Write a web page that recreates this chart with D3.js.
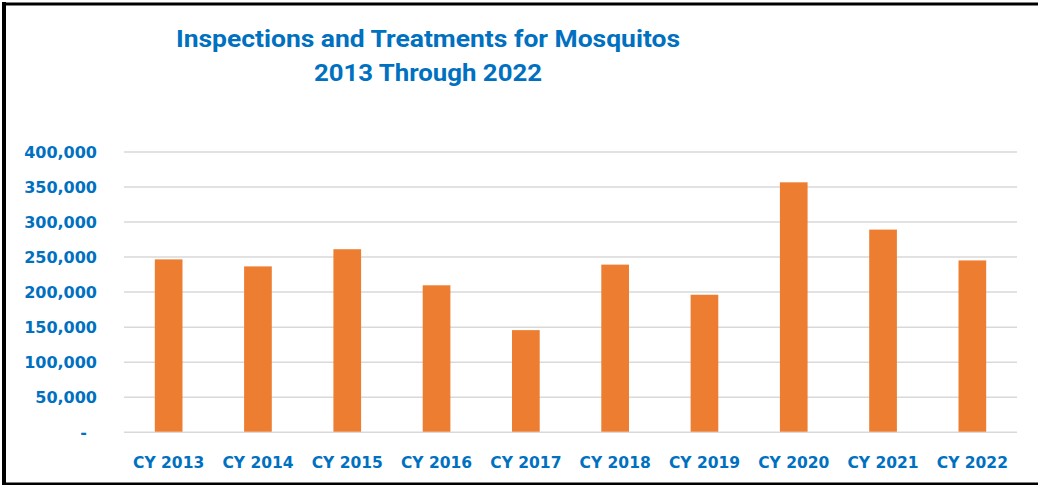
<!DOCTYPE html>
<html>
<head>
<meta charset="utf-8">
<script src="https://cdn.jsdelivr.net/npm/d3@7"></script>
<style>
  html, body { margin: 0; padding: 0; background: #fff; }
  svg { display: block; }
</style>
</head>
<body>
<svg id="chart" width="1038" height="485"></svg>
<script>
const categories = ["CY 2013","CY 2014","CY 2015","CY 2016","CY 2017","CY 2018","CY 2019","CY 2020","CY 2021","CY 2022"];
const values = [246000, 236000, 260500, 209000, 145000, 238500, 195500, 356000, 288500, 244500];
const yTicks = [0, 50000, 100000, 150000, 200000, 250000, 300000, 350000, 400000];
const titleLines = ["Inspections and Treatments for Mosquitos", "2013 Through 2022"];

const svg = d3.select("#chart");
const blue = "#0070C0";
const orange = "#ED7D31";

const x = d3.scaleBand().domain(categories).range([124, 1017]).paddingInner(0.69).paddingOuter(0.345);
const y = d3.scaleLinear().domain([0, 400000]).range([431.7, 151.5]);

// border (left, top, bottom)
svg.append("line").attr("x1", 4).attr("x2", 4).attr("y1", 2).attr("y2", 485).attr("stroke", "#000").attr("stroke-width", 4);
svg.append("line").attr("x1", 2).attr("x2", 1038).attr("y1", 4).attr("y2", 4).attr("stroke", "#000").attr("stroke-width", 3);
svg.append("line").attr("x1", 2).attr("x2", 1038).attr("y1", 484).attr("y2", 484).attr("stroke", "#000").attr("stroke-width", 3);

// title
const tw = [504, 228];
svg.append("g").selectAll("text").data(titleLines).join("text")
  .attr("x", 428).attr("y", (d, i) => 47 + i * 34)
  .attr("text-anchor", "middle")
  .attr("font-family", "'Liberation Sans Narrow', 'Roboto', sans-serif")
  .attr("font-weight", "bold").attr("font-size", 24)
  .attr("fill", blue)
  .attr("textLength", (d, i) => tw[i]).attr("lengthAdjust", "spacingAndGlyphs")
  .text(d => d);

// gridlines via axis
const yAxis = d3.axisLeft(y).tickValues(yTicks).tickSize(-(1017 - 124)).tickFormat(d => d === 0 ? "-" : d3.format(",")(d));
const gy = svg.append("g").attr("transform", "translate(124,0)").call(yAxis);
gy.select(".domain").remove();
gy.selectAll(".tick line").attr("stroke", "#d9d9d9").attr("stroke-width", 1.5);
gy.selectAll(".tick text")
  .attr("x", -27)
  .attr("fill", blue)
  .attr("font-family", "'DejaVu Sans', sans-serif")
  .attr("font-weight", "bold").attr("font-size", 16)
  .attr("dy", "0.36em");
gy.selectAll(".tick").filter(d => d === 0).select("text").attr("x", -37);

// bars
svg.append("g").selectAll("rect").data(values).join("rect")
  .attr("x", (d, i) => x(categories[i]))
  .attr("width", x.bandwidth())
  .attr("y", d => y(d))
  .attr("height", d => y(0) - y(d))
  .attr("fill", orange);

// x axis labels
const xAxis = d3.axisBottom(x).tickSize(0).tickPadding(0);
const gx = svg.append("g").attr("transform", "translate(0,431.7)").call(xAxis);
gx.select(".domain").remove();
gx.selectAll(".tick text")
  .attr("y", 36).attr("dy", 0)
  .attr("fill", blue)
  .attr("font-family", "'DejaVu Sans', sans-serif")
  .attr("font-weight", "bold").attr("font-size", 15.5);
</script>
</body>
</html>
